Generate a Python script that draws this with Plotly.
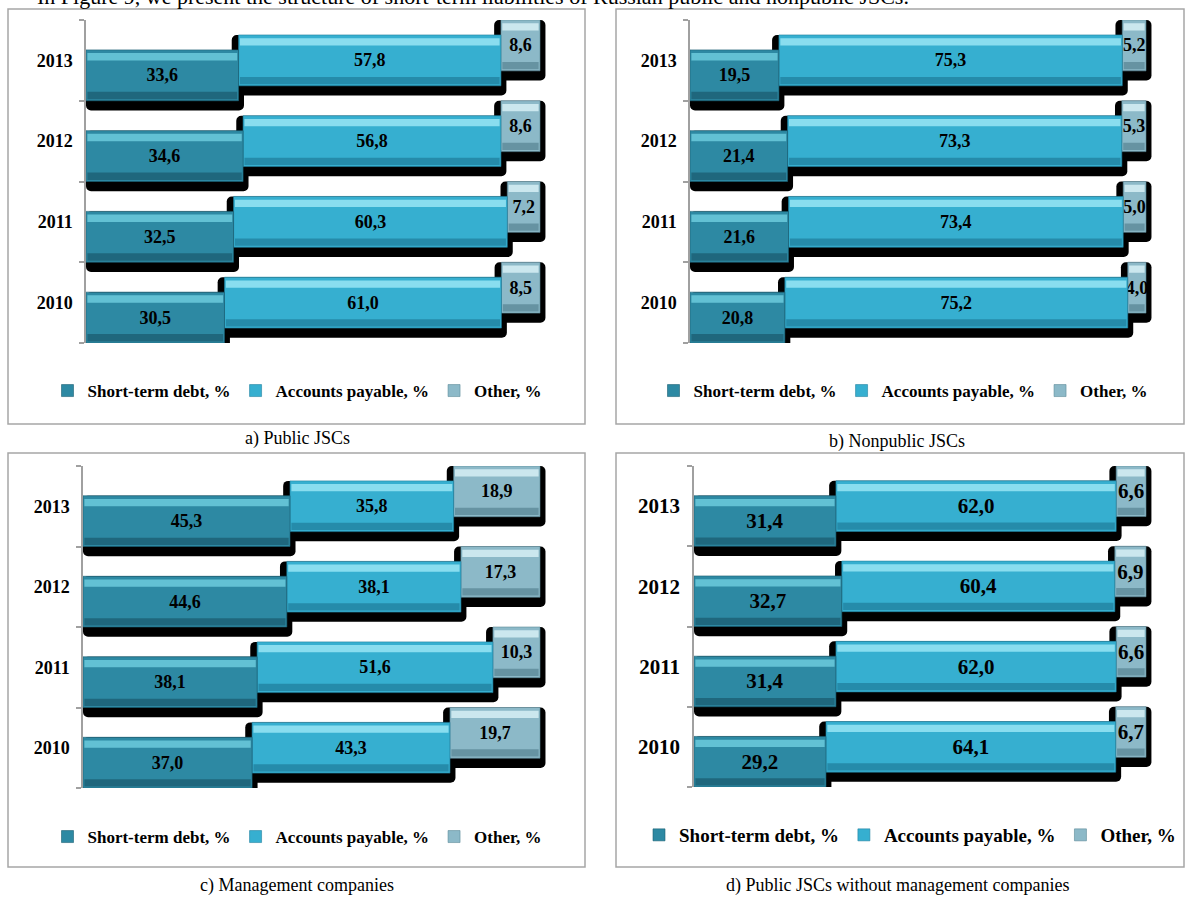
import plotly.graph_objects as go

W, H = 1191, 900

years = ["2010", "2011", "2012", "2013"]
series_names = ["Short-term debt, %", "Accounts payable, %", "Other, %"]

# Panel a) Public JSCs
a_short = [30.5, 32.5, 34.6, 33.6]
a_acc = [61.0, 60.3, 56.8, 57.8]
a_other = [8.5, 7.2, 8.6, 8.6]
# Panel b) Nonpublic JSCs
b_short = [20.8, 21.6, 21.4, 19.5]
b_acc = [75.2, 73.4, 73.3, 75.3]
b_other = [4.0, 5.0, 5.3, 5.2]
# Panel c) Management companies
c_short = [37.0, 38.1, 44.6, 45.3]
c_acc = [43.3, 51.6, 38.1, 35.8]
c_other = [19.7, 10.3, 17.3, 18.9]
# Panel d) Public JSCs without management companies
d_short = [29.2, 31.4, 32.7, 31.4]
d_acc = [64.1, 62.0, 60.4, 62.0]
d_other = [6.7, 6.6, 6.9, 6.6]

captions = ["a) Public JSCs", "b) Nonpublic JSCs", "c) Management companies",
            "d) Public JSCs without management companies"]
intro = "In Figure 9, we present the structure of short-term liabilities of Russian public and nonpublic JSCs."

FONT = "Liberation Serif, Times New Roman, serif"
COLORS = [  # main, light, dark
    ("#2d89a3", "#6ccbdd", "#1b5f73"),
    ("#36afd0", "#98e5f5", "#2282a0"),
    ("#8cb9c8", "#d6eef5", "#5d8a99"),
]
BAR_W = 0.63
OFFSETS = [-0.5, -0.315, -0.13]
RMAX = 103

# pixel geometry of each panel: x of 0%, x of 100%, y top, y bottom, legend y, centre x,
# box (x0, y0, x1, y1), caption y, font sizes (years, labels, legend)
panels = [
    dict(data=(a_short, a_acc, a_other), x0=86, x100=540, yt=20, yb=343, ly=391, cx=297,
         box=(8, 9, 585, 424), capy=438, fs=(18, 18, 17)),
    dict(data=(b_short, b_acc, b_other), x0=690, x100=1146, yt=20, yb=343, ly=391, cx=903,
         box=(616, 9, 1184, 424), capy=441, fs=(18, 18, 17)),
    dict(data=(c_short, c_acc, c_other), x0=83, x100=540, yt=466, yb=788, ly=837, cx=297,
         box=(8, 453, 585, 867), capy=885, fs=(18, 18, 17)),
    dict(data=(d_short, d_acc, d_other), x0=694, x100=1146, yt=466, yb=787, ly=835, cx=910,
         box=(616, 453, 1184, 867), capy=885, fs=(21, 21, 19)),
]


def fmt(v):
    return f"{v:.1f}".replace(".", ",")


fig = go.Figure()
layout = dict(width=W, height=H, margin=dict(l=0, r=0, t=0, b=0),
              paper_bgcolor="white", plot_bgcolor="rgba(0,0,0,0)",
              barmode="overlay", showlegend=True)
shapes = []
annotations = []

for k, p in enumerate(panels, start=1):
    xa = "x" if k == 1 else f"x{k}"
    ya = "y" if k == 1 else f"y{k}"
    lg = "legend" if k == 1 else f"legend{k}"
    fs_year, fs_lab, fs_leg = p["fs"]
    vals = p["data"]
    bases = []
    run = [0.0] * len(years)
    for v in vals:
        bases.append(list(run))
        run = [r + x for r, x in zip(run, v)]

    # shadows first
    for i in range(len(vals) - 1, -1, -1):
        sb = [b - 1.5 if b > 0 else 0 for b in bases[i]]
        se = [b + v + 1.2 for b, v in zip(bases[i], vals[i])]
        fig.add_trace(go.Bar(
            y=years, x=[e - s for s, e in zip(sb, se)], base=sb, orientation="h",
            offset=OFFSETS[i] - 0.12, width=BAR_W + 0.12,
            marker=dict(color="black", line=dict(width=0), cornerradius=5),
            showlegend=False, hoverinfo="skip", xaxis=xa, yaxis=ya))

    # bars, back to front
    for i in range(len(vals) - 1, -1, -1):
        main, light, dark = COLORS[i]
        fig.add_trace(go.Bar(
            y=years, x=vals[i], base=bases[i], orientation="h",
            offset=OFFSETS[i], width=BAR_W, name=series_names[i],
            marker=dict(color=main, line=dict(color=dark, width=0.6)),
            text=[fmt(v) for v in vals[i]], textposition="inside",
            insidetextanchor="middle", textangle=0, constraintext="none",
            textfont=dict(family=FONT, size=fs_lab, color="black", weight="bold"),
            legend=lg, legendrank=i, xaxis=xa, yaxis=ya))
        # bevel highlight (top) and shade (bottom)
        fig.add_trace(go.Bar(
            y=years, x=[v - 0.6 for v in vals[i]], base=[b + 0.3 for b in bases[i]],
            orientation="h", offset=OFFSETS[i] + BAR_W - 0.13, width=0.09,
            marker=dict(color=light, line=dict(width=0), opacity=0.85),
            showlegend=False, hoverinfo="skip", xaxis=xa, yaxis=ya))
        fig.add_trace(go.Bar(
            y=years, x=[v - 0.6 for v in vals[i]], base=[b + 0.3 for b in bases[i]],
            orientation="h", offset=OFFSETS[i] + 0.02, width=0.09,
            marker=dict(color=dark, line=dict(width=0), opacity=0.8),
            showlegend=False, hoverinfo="skip", xaxis=xa, yaxis=ya))

    xr = p["x0"] + (p["x100"] - p["x0"]) * RMAX / 100
    layout["xaxis" if k == 1 else f"xaxis{k}"] = dict(
        domain=[p["x0"] / W, xr / W], range=[0, RMAX], visible=False,
        anchor=ya, fixedrange=True)
    layout["yaxis" if k == 1 else f"yaxis{k}"] = dict(
        domain=[1 - p["yb"] / H, 1 - p["yt"] / H], type="category",
        categoryorder="array", categoryarray=years, range=[-0.5, 3.5],
        anchor=xa, showline=True, linecolor="#a0a0a0", linewidth=1.5,
        ticks="outside", tickson="boundaries", ticklen=5, tickcolor="#a0a0a0",
        tickwidth=1.5, showgrid=False, zeroline=False, ticklabelstandoff=8,
        tickfont=dict(family=FONT, size=fs_year, color="black", weight="bold"))
    layout[lg] = dict(
        orientation="h", x=p["cx"] / W, xanchor="center", y=1 - p["ly"] / H,
        yanchor="middle", bgcolor="rgba(0,0,0,0)", itemwidth=30,
        font=dict(family=FONT, size=fs_leg, color="black", weight="bold"),
        traceorder="normal", itemclick=False)
    bx0, by0, bx1, by1 = p["box"]
    shapes.append(dict(type="rect", xref="paper", yref="paper",
                       x0=bx0 / W, x1=bx1 / W, y0=1 - by1 / H, y1=1 - by0 / H,
                       line=dict(color="#a6a6a6", width=1.5), layer="below"))
    annotations.append(dict(text=captions[k - 1], xref="paper", yref="paper",
                            x=p["cx"] / W if k in (1, 3) else 897 / W,
                            y=1 - p["capy"] / H, xanchor="center",
                            yanchor="middle", showarrow=False,
                            font=dict(family=FONT, size=18, color="black")))

annotations.append(dict(text=intro, xref="paper", yref="paper", x=35 / W,
                        y=1 - 11 / H, xanchor="left", yanchor="bottom", showarrow=False,
                        font=dict(family=FONT, size=22, color="black")))

layout["shapes"] = shapes
layout["annotations"] = annotations
fig.update_layout(**layout)
fig.write_html("out.html")
